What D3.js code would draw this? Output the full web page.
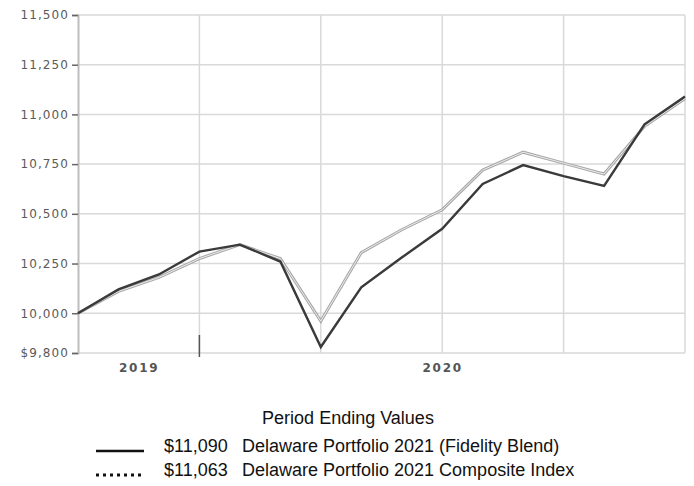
<!DOCTYPE html>
<html>
<head>
<meta charset="utf-8">
<script src="https://cdn.jsdelivr.net/npm/d3@7"></script>
<style>
  html, body { margin: 0; padding: 0; background: #fff; }
  svg { display: block; }
</style>
</head>
<body>
<svg id="chart" width="694" height="486"></svg>
<script>
// ---- data ----
const periods = [0, 1, 2, 3, 4, 5, 6, 7, 8, 9, 10, 11, 12, 13, 14, 15];
const fundValues = [10000, 10120, 10195, 10310, 10345, 10260, 9830, 10130, 10280, 10425, 10650, 10745, 10690, 10640, 10950, 11090];
const indexValues = [10000, 10110, 10180, 10275, 10345, 10275, 9960, 10305, 10420, 10520, 10720, 10810, 10755, 10700, 10940, 11080];
const yTickValues = [9800, 10000, 10250, 10500, 10750, 11000, 11250, 11500];
const yTickLabels = ["$9,800", "10,000", "10,250", "10,500", "10,750", "11,000", "11,250", "11,500"];
const xGridPeriods = [3, 6, 9, 12, 15];
const xLabelPeriods = [1.5, 9];
const xLabels = ["2019", "2020"];
const legendTitle = "Period Ending Values";
const legendValues = ["$11,090", "$11,063"];
const legendNames = ["Delaware Portfolio 2021 (Fidelity Blend)", "Delaware Portfolio 2021 Composite Index"];

// ---- layout ----
const mLeft = 78, mRight = 685, mTop = 15, mBottom = 353;
const svg = d3.select("#chart");

const x = d3.scaleLinear().domain([0, 15]).range([mLeft, mRight]);
const y = d3.scaleLinear().domain([9800, 11500]).range([mBottom, mTop]);

// horizontal gridlines
svg.append("g").selectAll("line").data(yTickValues).join("line")
  .attr("x1", mLeft).attr("x2", mRight)
  .attr("y1", d => y(d)).attr("y2", d => y(d))
  .attr("stroke", "#d9d9d9").attr("stroke-width", 1.5);

// vertical gridlines
svg.append("g").selectAll("line").data(xGridPeriods).join("line")
  .attr("x1", d => x(d)).attr("x2", d => x(d))
  .attr("y1", mTop).attr("y2", mBottom)
  .attr("stroke", "#d9d9d9").attr("stroke-width", 1.5);

// y axis
const yAxis = d3.axisLeft(y).tickValues(yTickValues)
  .tickFormat((d, i) => yTickLabels[i]).tickSize(6).tickPadding(3);
const gy = svg.append("g").attr("transform", `translate(${mLeft},0)`).call(yAxis);
gy.select(".domain").attr("stroke", "#bdbdbd").attr("stroke-width", 2);
gy.selectAll(".tick line").attr("stroke", "#666").attr("stroke-width", 1.5);
gy.selectAll(".tick text")
  .attr("fill", "#5a5a5a")
  .style("font-family", "'DejaVu Sans', sans-serif")
  .style("font-size", "12px")
  .style("letter-spacing", "1.1px");

// x labels
const xAxis = d3.axisBottom(x).tickValues(xLabelPeriods)
  .tickFormat((d, i) => xLabels[i]).tickSize(0).tickPadding(10);
const gx = svg.append("g").attr("transform", `translate(0,${mBottom})`).call(xAxis);
gx.select(".domain").remove();
gx.selectAll(".tick text")
  .attr("fill", "#555")
  .style("font-family", "'DejaVu Sans', sans-serif")
  .style("font-size", "12px")
  .style("font-weight", "bold")
  .style("letter-spacing", "1.8px");

// stray tick mark at first gridline
svg.append("line")
  .attr("x1", x(xGridPeriods[0])).attr("x2", x(xGridPeriods[0]))
  .attr("y1", mBottom - 18).attr("y2", mBottom + 4)
  .attr("stroke", "#555").attr("stroke-width", 1.5);

// lines
const line = (vals) => d3.line().x((d, i) => x(periods[i])).y(d => y(d))(vals);

svg.append("path").attr("d", line(indexValues))
  .attr("fill", "none").attr("stroke", "#a8a8a8").attr("stroke-width", 3)
  .attr("stroke-linejoin", "miter");
svg.append("path").attr("d", line(indexValues))
  .attr("fill", "none").attr("stroke", "#ececec").attr("stroke-width", 1)
  .attr("stroke-linejoin", "miter");

svg.append("path").attr("d", line(fundValues))
  .attr("fill", "none").attr("stroke", "#3a3a3a").attr("stroke-width", 2.4)
  .attr("stroke-linejoin", "miter");

// legend
const lg = svg.append("g").style("font-family", "'Liberation Sans', Arial, sans-serif")
  .style("font-size", "18px").attr("fill", "#111");
lg.append("text").attr("x", 348).attr("y", 424).attr("text-anchor", "middle").text(legendTitle);

const rowsY = [452, 476];
rowsY.forEach((ry, i) => {
  lg.append("line").attr("x1", 96).attr("x2", 144).attr("y1", ry - 1).attr("y2", ry - 1)
    .attr("stroke", "#111").attr("stroke-width", i === 0 ? 2.5 : 3)
    .attr("stroke-dasharray", i === 0 ? null : "3,4");
  lg.append("text").attr("x", 164).attr("y", ry).text(legendValues[i]);
  lg.append("text").attr("x", 242).attr("y", ry).text(legendNames[i]);
});
</script>
</body>
</html>
